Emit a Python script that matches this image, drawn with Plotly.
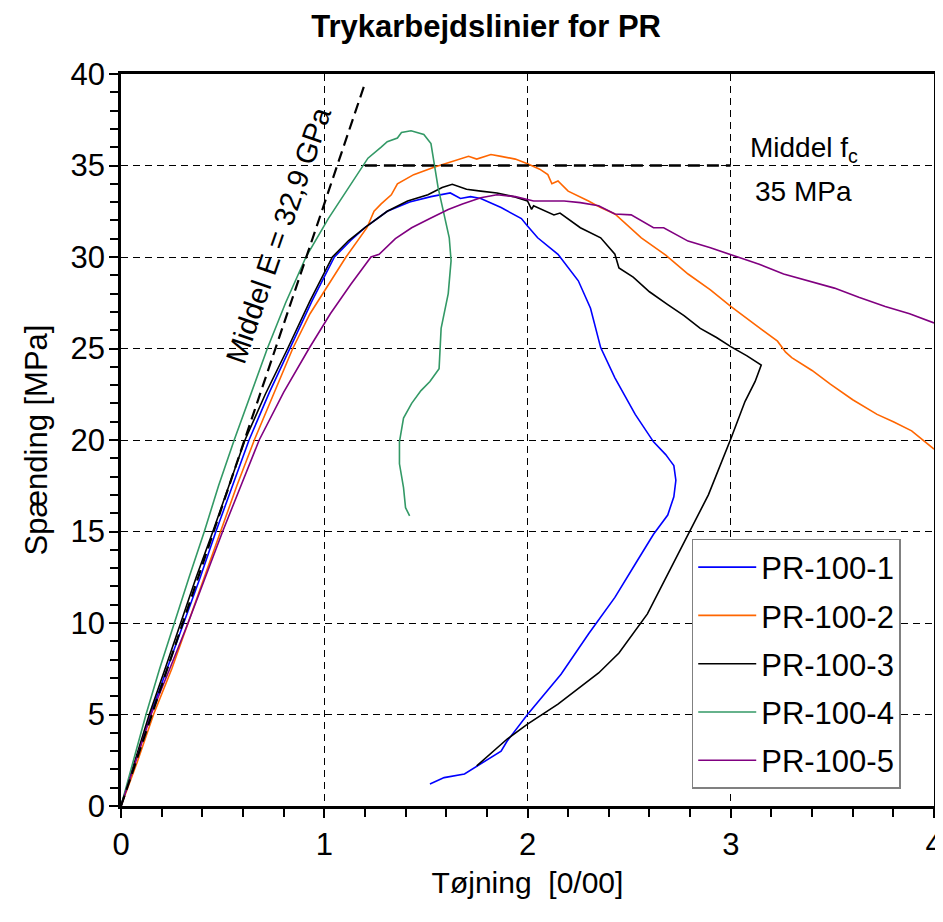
import plotly.graph_objects as go

# ---------------- data ----------------
names = ["PR-100-1", "PR-100-2", "PR-100-3", "PR-100-4", "PR-100-5"]
colors = ["#0000FF", "#FF6600", "#000000", "#339966", "#800080"]

pr1_x = [0, 0.07, 0.145, 0.23, 0.31, 0.39, 0.467, 0.55, 0.63, 0.73, 0.83, 0.94, 1.05, 1.13, 1.2, 1.31, 1.42, 1.525,
         1.62, 1.67, 1.72, 1.77, 1.87, 1.97, 2.0, 2.05, 2.15, 2.25, 2.31, 2.36, 2.43, 2.53, 2.62, 2.68, 2.70, 2.72,
         2.73, 2.72, 2.69, 2.62, 2.54, 2.43, 2.30, 2.165, 2.0, 1.90, 1.87, 1.77, 1.69, 1.59, 1.52]
pr1_y = [0, 2.4, 5, 7.6, 10, 12.5, 15, 17.5, 20, 22.6, 25, 27.6, 30, 30.9, 31.6, 32.5, 33.0, 33.3,
         33.5, 33.2, 33.3, 33.2, 32.7, 32.1, 31.7, 31.05, 30.15, 28.7, 27.2, 25.05, 23.4, 21.4, 19.9, 19.2, 18.9, 18.6,
         17.8, 16.9, 15.9, 14.85, 13.4, 11.4, 9.4, 7.2, 5.0, 3.55, 3.0, 2.3, 1.75, 1.55, 1.2]

pr2_x = [0, 0.08, 0.16, 0.25, 0.33, 0.41, 0.49, 0.57, 0.656, 0.75, 0.845, 0.93, 1.02, 1.107, 1.21, 1.245, 1.28,
         1.33, 1.36, 1.44, 1.54, 1.62, 1.71, 1.75, 1.82, 1.87, 1.94, 2.0, 2.06, 2.1, 2.12, 2.15, 2.2, 2.3, 2.36,
         2.43, 2.56, 2.68, 2.79, 2.9, 3.0, 3.12, 3.23, 3.27, 3.3, 3.4, 3.49, 3.6, 3.72, 3.8, 3.89, 4.0]
pr2_y = [0, 2.4, 5, 7.5, 10, 12.5, 15, 17.5, 20, 22.5, 25, 26.9, 28.5, 30, 31.6, 32.5, 32.9,
         33.4, 34.0, 34.5, 34.9, 35.2, 35.5, 35.35, 35.6, 35.5, 35.35, 35.1, 34.8, 34.5, 34.0, 34.15, 33.6, 33.06,
         32.7, 32.35, 31.05, 30.1, 29.07, 28.2, 27.3, 26.3, 25.4, 24.8, 24.5, 23.8, 23.05, 22.2, 21.4, 21.0, 20.5, 19.5]

pr3_x = [0, 0.07, 0.139, 0.22, 0.295, 0.37, 0.452, 0.53, 0.61, 0.71, 0.82, 0.93, 1.04, 1.12, 1.2, 1.31, 1.41,
         1.51, 1.58, 1.63, 1.7, 1.77, 1.85, 1.93, 2.0, 2.02, 2.03, 2.13, 2.16, 2.26, 2.36, 2.43, 2.45, 2.52, 2.6,
         2.69, 2.77, 2.85, 2.93, 3.0, 3.08, 3.15, 3.12, 3.07, 3.0, 2.89, 2.79, 2.69, 2.59, 2.45, 2.35, 2.15, 2.0,
         1.90, 1.77, 1.75]
pr3_y = [0, 2.5, 5, 7.6, 10, 12.5, 15, 17.5, 20, 22.5, 25, 27.6, 30, 30.9, 31.6, 32.5, 33.06,
         33.4, 33.8, 33.97, 33.7, 33.6, 33.5, 33.3, 33.06, 32.6, 32.8, 32.3, 32.4, 31.6, 31.05, 30.15, 29.4, 28.9, 28.1,
         27.4, 26.8, 26.1, 25.6, 25.1, 24.6, 24.1, 23.2, 22.1, 20.05, 17.0, 14.85, 12.7, 10.5, 8.36, 7.27, 5.57, 4.47,
         3.66, 2.35, 2.19]

pr4_x = [0, 0.06, 0.123, 0.19, 0.262, 0.335, 0.41, 0.48, 0.557, 0.64, 0.72, 0.81, 0.91, 1.02, 1.13, 1.215, 1.28,
         1.31, 1.36, 1.38, 1.427, 1.49, 1.525, 1.54, 1.56, 1.59, 1.615, 1.624, 1.61, 1.575, 1.565, 1.52, 1.476,
         1.43, 1.39, 1.37, 1.37, 1.39, 1.40, 1.42]
pr4_y = [0, 2.5, 5, 7.5, 10, 12.5, 15, 17.5, 20, 22.5, 25, 27.5, 30, 32.1, 34, 35.4, 36.0,
         36.3, 36.5, 36.8, 36.9, 36.7, 36.2, 35.2, 33.8, 32.3, 31.05, 29.8, 28.0, 26.1, 23.9, 23.2, 22.7,
         22.0, 21.2, 19.9, 18.7, 17.4, 16.3, 15.85]

pr5_x = [0, 0.075, 0.148, 0.24, 0.33, 0.415, 0.50, 0.59, 0.68, 0.8, 0.925, 1.03, 1.13, 1.23, 1.27, 1.35, 1.43,
         1.52, 1.61, 1.68, 1.77, 1.85, 1.94, 2.03, 2.18, 2.26, 2.35, 2.43, 2.51, 2.62, 2.67, 2.79, 2.9, 3.02, 3.14,
         3.26, 3.38, 3.51, 3.63, 3.76, 3.88, 4.0]
pr5_y = [0, 2.5, 5, 7.5, 10, 12.5, 15, 17.5, 20, 22.6, 25, 26.9, 28.5, 30, 30.15, 31.0, 31.6,
         32.1, 32.6, 32.9, 33.24, 33.4, 33.3, 33.06, 33.06, 32.97, 32.8, 32.35, 32.3, 31.6, 31.6, 30.87, 30.5, 30.05, 29.6,
         29.07, 28.7, 28.3, 27.8, 27.3, 26.9, 26.4]

series_x = [pr1_x, pr2_x, pr3_x, pr4_x, pr5_x]
series_y = [pr1_y, pr2_y, pr3_y, pr4_y, pr5_y]

E_mean = 32.9          # GPa -> MPa per 0/00
E_strain = [0, 1.2]    # extent of the E-modulus line
fc_mean = 35.0         # MPa
fc_strain = [1.2, 3.0] # extent of the f_c line

x_ticks = [0, 1, 2, 3, 4]
y_ticks = [0, 5, 10, 15, 20, 25, 30, 35, 40]

FONT = "Liberation Sans, Arial, sans-serif"

fig = go.Figure()

for nm, c, xs, ys in zip(names, colors, series_x, series_y):
    fig.add_trace(go.Scatter(x=xs, y=ys, mode="lines", name=nm, legendgroup=nm,
                             line=dict(color=c, width=1.6)))

fig.add_trace(go.Scatter(x=E_strain, y=[E_mean * e for e in E_strain], mode="lines",
                         showlegend=False, line=dict(color="black", width=2.2, dash="11px,6px")))
fig.add_trace(go.Scatter(x=fc_strain, y=[fc_mean, fc_mean], mode="lines",
                         showlegend=False, line=dict(color="black", width=2.5, dash="12px,7px")))

fig.add_annotation(x=0.775, y=31.2, xref="x", yref="y", text="Middel E = 32,9 GPa",
                   textangle=-71, showarrow=False, font=dict(family=FONT, size=29, color="black"))
fig.add_annotation(x=3.36, y=35.9, xref="x", yref="y", text="Middel f<sub>c</sub>",
                   showarrow=False, font=dict(family=FONT, size=28, color="black"))
fig.add_annotation(x=3.36, y=33.6, xref="x", yref="y", text="35 MPa",
                   showarrow=False, font=dict(family=FONT, size=28, color="black"))

axis_common = dict(showline=True, linecolor="black", linewidth=2.5, mirror=True,
                   ticks="outside", ticklen=9, tickwidth=2, tickcolor="black",
                   showgrid=True, gridcolor="black", gridwidth=1, griddash="7px,5px",
                   zeroline=False, automargin=False,
                   tickfont=dict(family=FONT, size=31, color="black"))

fig.update_xaxes(range=[0, 4], tickvals=x_ticks, ticktext=[str(v) for v in x_ticks],
                 minor=dict(dtick=0.2, ticks="outside", ticklen=8, tickwidth=1.5, tickcolor="black", showgrid=False),
                 title=dict(text="Tøjning  [0/00]", font=dict(family=FONT, size=30, color="black"), standoff=12),
                 **axis_common)
fig.update_yaxes(range=[0, 40], tickvals=y_ticks, ticktext=[str(v) for v in y_ticks],
                 ticklabelstandoff=-2,
                 minor=dict(dtick=1, ticks="outside", ticklen=8, tickwidth=1.5, tickcolor="black", showgrid=False),
                 title=dict(text="Spænding [MPa]", font=dict(family=FONT, size=31, color="black"), standoff=14),
                 **axis_common)

fig.update_layout(
    width=943, height=922,
    margin=dict(l=113, r=17, t=66, b=124),
    paper_bgcolor="white", plot_bgcolor="white",
    title=dict(text="<b>Trykarbejdslinier for PR</b>", x=0.507, xanchor="center", y=0.98, yanchor="middle",
               font=dict(family=FONT, size=31, color="black")),
    legend=dict(x=0.702, y=0.3648, xanchor="left", yanchor="top", bgcolor="white",
                bordercolor="#808080", borderwidth=1.5, tracegroupgap=5, itemwidth=58,
                font=dict(family=FONT, size=31, color="black")),
    showlegend=True,
)

fig.write_html("out.html")
